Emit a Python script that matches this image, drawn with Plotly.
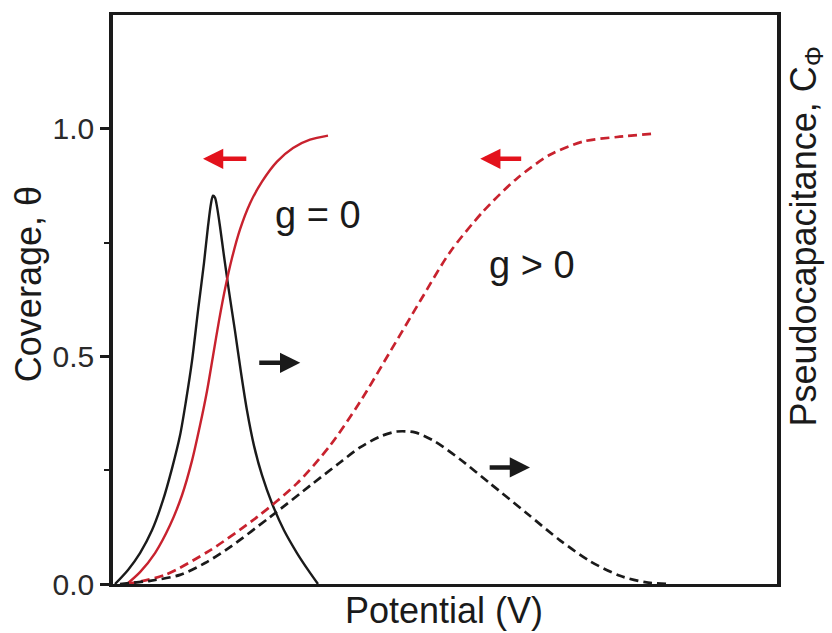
import plotly.graph_objects as go

# Potential axis is arbitrary (0-100), coverage axis 0-1.25
pot_g0_cov = [2.11, 4.07, 6.33, 8.58, 10.39, 11.9, 13.1, 14.16, 15.06, 15.96, 16.87, 17.92, 19.13, 20.63, 22.44, 24.70, 27.11, 29.67, 32.38]
cov_g0 = [0.0, 0.026, 0.068, 0.129, 0.195, 0.271, 0.348, 0.424, 0.501, 0.578, 0.648, 0.716, 0.779, 0.836, 0.884, 0.928, 0.958, 0.976, 0.985]

pot_g0_cap = [0.3, 2.26, 4.07, 5.87, 7.53, 8.89, 10.09, 11.0, 11.9, 12.8, 13.7, 14.31, 14.76, 15.06, 15.36, 15.66, 16.11, 16.72, 17.47, 18.37, 19.28, 20.18, 21.23, 22.44, 23.95, 25.75, 27.71, 29.37, 30.87]
cap_g0 = [0.0, 0.031, 0.068, 0.118, 0.184, 0.254, 0.326, 0.403, 0.490, 0.600, 0.705, 0.786, 0.836, 0.853, 0.849, 0.829, 0.786, 0.720, 0.643, 0.556, 0.464, 0.381, 0.304, 0.239, 0.177, 0.118, 0.068, 0.031, 0.0]

pot_gp_cov = [2.11, 7.83, 14.61, 21.69, 27.71, 32.68, 37.2, 41.72, 46.23, 50.75, 55.72, 60.84, 65.81, 70.78, 75.9, 81.33]
cov_gp = [0.0, 0.020, 0.074, 0.147, 0.221, 0.304, 0.400, 0.510, 0.621, 0.729, 0.818, 0.891, 0.943, 0.972, 0.982, 0.989]

pot_gp_cap = [1.05, 5.57, 10.09, 13.86, 17.62, 23.64, 30.12, 34.19, 37.2, 40.21, 42.77, 45.48, 48.49, 52.26, 56.78, 62.35, 67.32, 71.84, 76.36, 80.12, 83.43]
cap_gp = [0.0, 0.007, 0.020, 0.046, 0.081, 0.147, 0.221, 0.267, 0.300, 0.324, 0.335, 0.333, 0.313, 0.274, 0.221, 0.155, 0.096, 0.050, 0.018, 0.004, 0.0]

y_ticks = [0.0, 0.5, 1.0]
y_tick_text = ["0.0", "0.5", "1.0"]

RED = "#c8222e"
ARROW_RED = "#e3121c"
INK = "#1a1a1a"
FONT = "Liberation Sans, Arial, sans-serif"

fig = go.Figure()
fig.add_trace(go.Scatter(x=pot_g0_cap, y=cap_g0, mode="lines",
                         line=dict(color=INK, width=2.4, shape="spline", smoothing=0.8)))
fig.add_trace(go.Scatter(x=pot_g0_cov, y=cov_g0, mode="lines",
                         line=dict(color=RED, width=2.4, shape="spline", smoothing=0.8)))
fig.add_trace(go.Scatter(x=pot_gp_cov, y=cov_gp, mode="lines",
                         line=dict(color=RED, width=2.7, dash="9px,5px", shape="spline", smoothing=0.8)))
fig.add_trace(go.Scatter(x=pot_gp_cap, y=cap_gp, mode="lines",
                         line=dict(color=INK, width=2.7, dash="9px,5px", shape="spline", smoothing=0.8)))

# direction arrows: (head_x, tail_x, y, color)
arrows = [
    (13.55, 20.3, 0.934, ARROW_RED),
    (55.3, 61.7, 0.934, ARROW_RED),
    (28.2, 21.8, 0.486, INK),
    (62.8, 56.5, 0.256, INK),
]
for hx, tx, yy, col in arrows:
    fig.add_annotation(x=hx, y=yy, ax=tx, ay=yy, xref="x", yref="y", axref="x", ayref="y",
                       showarrow=True, arrowhead=2, arrowsize=0.9, arrowwidth=4.5,
                       arrowcolor=col, text="")

fig.add_annotation(x=30.9, y=0.81, text="g = 0", showarrow=False,
                   font=dict(family=FONT, size=38, color=INK))
fig.add_annotation(x=63.1, y=0.70, text="g > 0", showarrow=False,
                   font=dict(family=FONT, size=38, color=INK))

# axis titles
fig.add_annotation(x=-0.128, y=0.527, xref="paper", yref="paper", xanchor="center", yanchor="middle",
                   text="Coverage, θ", textangle=-90, showarrow=False,
                   font=dict(family=FONT, size=36, color=INK))
fig.add_annotation(x=1.044, y=0.611, xref="paper", yref="paper", xanchor="center", yanchor="middle",
                   text="Pseudocapacitance, C<sub>Φ</sub>", textangle=-90, showarrow=False,
                   font=dict(family=FONT, size=36, color=INK))
fig.add_annotation(x=0.499, y=-0.047, xref="paper", yref="paper", xanchor="center", yanchor="middle",
                   text="Potential (V)", showarrow=False,
                   font=dict(family=FONT, size=36, color=INK))

fig.update_layout(
    width=832, height=633,
    margin=dict(l=113, r=55, t=13, b=49),
    paper_bgcolor="white", plot_bgcolor="white",
    showlegend=False,
    font=dict(family=FONT, color=INK),
    xaxis=dict(range=[0, 100], showgrid=False, zeroline=False, showticklabels=False,
               ticks="", showline=True, linecolor=INK, linewidth=3, mirror=True),
    yaxis=dict(range=[0, 1.25], showgrid=False, zeroline=False,
               tickvals=y_ticks, ticktext=y_tick_text, ticks="outside", ticklen=9,
               tickwidth=2.5, tickcolor=INK, tickfont=dict(family=FONT, size=30, color="#2a2a2a"),
               minor=dict(tickvals=[0.25, 0.75], ticks="outside", ticklen=5, tickwidth=2, tickcolor=INK),
               showline=True, linecolor=INK, linewidth=3.5, mirror=True),
)

fig.write_html("out.html")
